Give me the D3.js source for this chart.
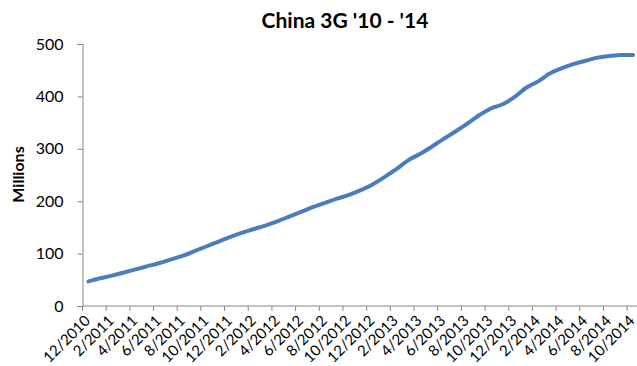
<!DOCTYPE html>
<html>
<head>
<meta charset="utf-8">
<script src="https://cdn.jsdelivr.net/npm/d3@7"></script>
<style>
  body { margin: 0; background: #fff; }
  svg text { font-family: Lato, 'DejaVu Sans', sans-serif; fill: #000; }
</style>
</head>
<body>
<div id="chart"></div>
<script>
const months = [
  '12/2010', '1/2011', '2/2011', '3/2011', '4/2011', '5/2011', '6/2011', '7/2011', '8/2011',
  '9/2011', '10/2011', '11/2011', '12/2011', '1/2012', '2/2012', '3/2012', '4/2012', '5/2012',
  '6/2012', '7/2012', '8/2012', '9/2012', '10/2012', '11/2012', '12/2012', '1/2013', '2/2013',
  '3/2013', '4/2013', '5/2013', '6/2013', '7/2013', '8/2013', '9/2013', '10/2013', '11/2013',
  '12/2013', '1/2014', '2/2014', '3/2014', '4/2014', '5/2014', '6/2014', '7/2014', '8/2014',
  '9/2014', '10/2014'
];
const subscribers = [
  47, 53, 58, 64, 70, 76, 82, 89, 96, 105, 114, 123,
  132, 140, 147, 154, 162, 171, 180, 189, 197, 205, 212, 221,
  232, 246, 261, 278, 290, 304, 319, 333, 348, 364, 377, 385,
  399, 417, 429, 444, 454, 462, 468, 474, 477, 479, 479
];
const yTicks = [0, 100, 200, 300, 400, 500];

const W = 637, H = 366;
const margin = { left: 82.5, top: 44, bottom: 60 };
const bandW = 11.84;
const plotH = H - margin.top - margin.bottom;

const svg = d3.select('#chart').append('svg')
  .attr('width', W)
  .attr('height', H);

const x = d3.scaleBand()
  .domain(months)
  .range([margin.left, margin.left + bandW * months.length]);

const y = d3.scaleLinear()
  .domain([0, 500])
  .range([margin.top + plotH, margin.top]);

const axisColor = '#868686';

// title
svg.append('text')
  .attr('x', 345)
  .attr('y', 28)
  .attr('text-anchor', 'middle')
  .attr('font-size', '21px')
  .attr('font-weight', 'bold')
  .text("China 3G '10 - '14");

// y axis
const yAxis = svg.append('g')
  .attr('transform', `translate(${margin.left}, 0)`)
  .call(d3.axisLeft(y).tickValues(yTicks).tickSize(5).tickPadding(14));
yAxis.selectAll('path, line').attr('stroke', axisColor);
yAxis.selectAll('text')
  .attr('font-size', '16px')
  .attr('font-family', 'Lato, sans-serif')
  .attr('fill', '#000');

svg.append('text')
  .attr('transform', `translate(24, ${174.5}) rotate(-90)`)
  .attr('text-anchor', 'middle')
  .attr('font-size', '16px')
  .attr('font-weight', 'bold')
  .text('Millions');

// x axis: tick marks on every second category boundary, labels on every second category
const xAxis = svg.append('g');
xAxis.append('line')
  .attr('x1', margin.left).attr('x2', x.range()[1])
  .attr('y1', y(0)).attr('y2', y(0))
  .attr('stroke', axisColor);

xAxis.selectAll('.tick-mark')
  .data(months.filter((d, i) => i % 2 === 0))
  .enter()
  .append('line')
    .attr('class', 'tick-mark')
    .attr('x1', d => x(d)).attr('x2', d => x(d))
    .attr('y1', y(0)).attr('y2', y(0) + 5)
    .attr('stroke', axisColor);

xAxis.selectAll('.tick-label')
  .data(months.filter((d, i) => i % 2 === 0))
  .enter()
  .append('text')
    .attr('class', 'tick-label')
    .attr('transform', d => `translate(${x(d) + x.bandwidth() / 2 - 1}, ${y(0) + 12}) rotate(-45)`)
    .attr('dy', '0.35em')
    .attr('text-anchor', 'end')
    .attr('font-size', '15px')
    .text(d => d);

// line
const line = d3.line()
  .x((d, i) => x(months[i]) + x.bandwidth() / 2)
  .y(d => y(d))
  .curve(d3.curveMonotoneX);

svg.append('path')
  .datum(subscribers)
  .attr('fill', 'none')
  .attr('stroke', '#4a7ebb')
  .attr('stroke-width', 4)
  .attr('stroke-linecap', 'round')
  .attr('stroke-linejoin', 'round')
  .attr('d', line);
</script>
</body>
</html>
